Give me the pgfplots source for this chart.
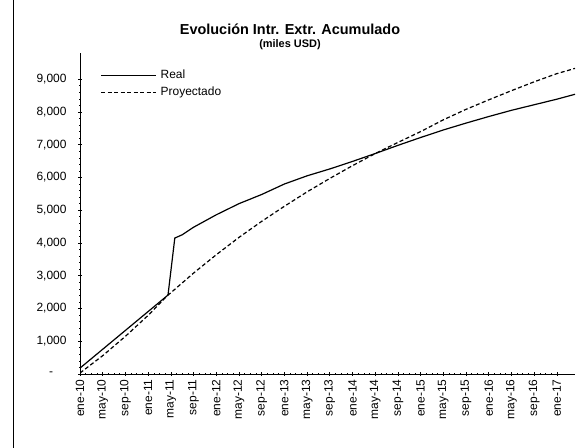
\documentclass[border=0pt]{standalone}
\usepackage{fontspec}
\setmainfont{Liberation Sans}
\usepackage{pgfplots}
\pgfplotsset{compat=1.18}
\begin{document}
\begin{tikzpicture}[x=1bp,y=1bp]
\useasboundingbox (0,0) rectangle (576,448);
\draw[line width=1bp] (13,0) -- (13,448);
\node[font=\bfseries\fontsize{14.5}{16}\selectfont] at (290,419) {Evolución Intr. Extr. Acumulado};
\node[font=\bfseries\fontsize{11}{12}\selectfont] at (290,403) {(miles USD)};
\begin{axis}[
  at={(80bp,74bp)}, anchor=south west, scale only axis,
  width=495bp, height=321bp,
  xmin=0, xmax=87.2, ymin=0, ymax=9800,
  axis x line=bottom, axis y line=left,
  axis line style={-, line width=0.9bp},
  tick align=center, major tick length=4bp, minor tick length=2bp,
  tick style={line width=0.6bp, black},
  xtick={0,4,...,84},
  xticklabels={ene-10,may-10,sep-10,ene-11,may-11,sep-11,ene-12,may-12,sep-12,ene-13,may-13,sep-13,ene-14,may-14,sep-14,ene-15,may-15,sep-15,ene-16,may-16,sep-16,ene-17},
  x tick label style={rotate=90, anchor=east, font=\fontsize{12}{14}\selectfont},
  minor x tick num=3,
  ytick={0,1000,...,9000},
  yticklabels={{-\hphantom{00}},{1,000},{2,000},{3,000},{4,000},{5,000},{6,000},{7,000},{8,000},{9,000}},
  y tick label style={font=\fontsize{12}{14}\selectfont, xshift=-8bp},
  minor y tick num=4,
  legend style={at={(rel axis cs:0.035,0.96)}, anchor=north west, draw=none, fill=none,
    font=\fontsize{12}{14}\selectfont, row sep=3bp, nodes={inner xsep=4bp}},
  legend cell align=left,
  legend image code/.code={\draw[#1] (0bp,0bp) -- (55bp,0bp);},
]
\addplot[black, line width=1.2bp] coordinates {
(0,180) (15.5,2410) (16.7,4150) (18,4250) (20,4480) (24,4860) (28,5200) (32,5480)
(36,5800) (40,6050) (44,6260) (48,6490) (52,6730) (56,6980) (60,7220) (64,7450)
(68,7660) (72,7860) (76,8050) (80,8220) (84,8390) (87.2,8540)
};
\addlegendentry{Real}
\addplot[black, line width=1.2bp, dash pattern=on 4bp off 2.5bp] coordinates {
(0,30) (4,560) (8,1150) (12,1790) (15.5,2410) (16,2480) (20,3080) (24,3640) (28,4170)
(32,4660) (36,5120) (40,5560) (44,5970) (48,6360) (52,6730) (56,7070) (60,7400)
(64,7760) (68,8080) (72,8370) (76,8650) (80,8920) (84,9170) (87.2,9330)
};
\addlegendentry{Proyectado}
\end{axis}
\end{tikzpicture}
\end{document}
